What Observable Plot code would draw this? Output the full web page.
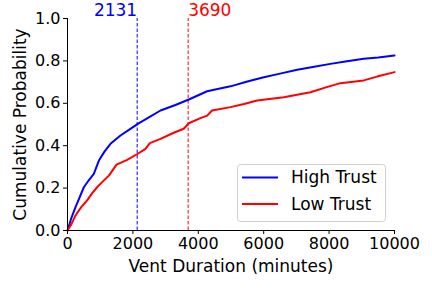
<!DOCTYPE html>
<html><head><meta charset="utf-8">
<script src="https://cdn.jsdelivr.net/npm/d3@7"></script>
<script src="https://cdn.jsdelivr.net/npm/@observablehq/plot@0.6"></script>
<style>
body{margin:0;background:#fff;}
#chart{position:relative;width:432px;height:288px;}
</style>
</head><body><div id="chart"></div>
<script>
const highX = [0,120,245,380,500,650,805,960,1130,1315,1620,1900,2150,2500,2845,3300,3710,4270,4985,5500,6005,6500,7025,7500,8040,8500,9060,9500,10000];
const highY = [0,0.06,0.11,0.16,0.204,0.237,0.267,0.33,0.372,0.409,0.448,0.477,0.503,0.535,0.566,0.592,0.618,0.657,0.68,0.703,0.723,0.74,0.758,0.771,0.786,0.797,0.81,0.816,0.825];
const lowX = [0,120,245,420,600,750,905,1060,1265,1500,1825,2150,2385,2520,2845,3250,3555,3710,4065,4270,4420,4985,5400,5800,6615,7430,7900,8350,9060,9470,10000];
const lowY = [0,0.03,0.071,0.11,0.142,0.175,0.204,0.228,0.259,0.311,0.333,0.362,0.385,0.412,0.432,0.461,0.48,0.506,0.53,0.542,0.566,0.582,0.597,0.613,0.629,0.652,0.675,0.695,0.708,0.726,0.747];
const seriesNames = ["High Trust","Low Trust"];
const seriesColors = ["#0000ff","#ff0000"];
const medians = [2131, 3690];
const xTicks = [0,2000,4000,6000,8000,10000];
const yTicks = [0,0.2,0.4,0.6,0.8,1.0];
const xLabel = "Vent Duration (minutes)";
const yLabel = "Cumulative Probability";

const rows = [];
highX.forEach((x,i)=>rows.push({s:seriesNames[0],x,y:highY[i]}));
lowX.forEach((x,i)=>rows.push({s:seriesNames[1],x,y:lowY[i]}));
const med = medians.map((v,i)=>({v,c:seriesColors[i]}));

const plot = Plot.plot({
  width:432, height:288,
  marginLeft:67, marginRight:38, marginTop:18, marginBottom:58,
  style:{fontFamily:"'DejaVu Sans', sans-serif", fontSize:"16px", color:"#000", background:"#fff", overflow:"visible"},
  x:{domain:[0,10000]},
  y:{domain:[0,1]},
  marks:[
    Plot.ruleX(med,{x:"v",y1:0,y2:1,stroke:"c",strokeWidth:1,strokeDasharray:"3.5,2"}),
    Plot.line(rows,{x:"x",y:"y",z:"s",stroke:d=>seriesColors[seriesNames.indexOf(d.s)],strokeWidth:2}),
    Plot.text(med.slice(0,1),{x:"v",y:()=>1,text:d=>String(d.v),fill:"c",textAnchor:"end",lineAnchor:"bottom",dy:-3,fontSize:17}),
    Plot.text(med.slice(1),{x:"v",y:()=>1,text:d=>String(d.v),fill:"c",textAnchor:"start",lineAnchor:"bottom",dy:-3,fontSize:17}),
    Plot.ruleX([0],{stroke:"#000",strokeWidth:1}),
    Plot.ruleY([0],{stroke:"#000",strokeWidth:1}),
    Plot.axisX({ticks:xTicks,tickSize:4,tickPadding:3,tickFormat:d=>String(d),fontSize:16,label:null}),
    Plot.axisY({ticks:yTicks,tickSize:4,tickPadding:3,tickFormat:d=>d.toFixed(1),fontSize:16,label:null}),
    Plot.text([xLabel],{frameAnchor:"bottom",text:d=>d,textAnchor:"middle",lineAnchor:"bottom",dy:41,fontSize:17,fill:"#000"}),
    Plot.text([yLabel],{frameAnchor:"left",text:d=>d,textAnchor:"middle",rotate:-90,lineAnchor:"middle",dx:-47,fontSize:17,fill:"#000"})
  ]
});
document.getElementById("chart").appendChild(plot);

// legend inside the SVG
const svg = d3.select(plot);
const lg = svg.append("g").attr("font-family","'DejaVu Sans', sans-serif").attr("font-size",17).attr("text-anchor","start");
lg.append("rect").attr("x",237.5).attr("y",164.5).attr("width",148).attr("height",57).attr("rx",3)
  .attr("fill","#fff").attr("fill-opacity",0.8).attr("stroke","#d0d0d0");
seriesNames.forEach((n,i)=>{
  const yy = 177.5 + i*26.5;
  lg.append("line").attr("x1",242).attr("x2",278).attr("y1",yy).attr("y2",yy).attr("stroke",seriesColors[i]).attr("stroke-width",2);
  lg.append("text").attr("x",291).attr("y",yy).attr("dy","0.35em").attr("fill","#000").attr("text-anchor","start").text(n);
});
</script></body></html>
